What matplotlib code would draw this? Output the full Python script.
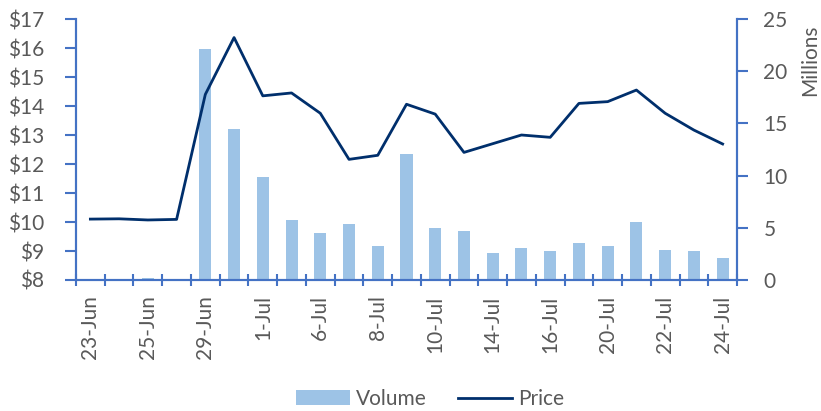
import matplotlib.pyplot as plt
import numpy as np
from matplotlib.lines import Line2D
from matplotlib.patches import Patch

plt.rcParams["font.family"] = ["Lato", "DejaVu Sans"]

DATES = ["23-Jun", "24-Jun", "25-Jun", "26-Jun", "29-Jun", "30-Jun", "1-Jul", "2-Jul",
         "6-Jul", "7-Jul", "8-Jul", "9-Jul", "10-Jul", "13-Jul", "14-Jul", "15-Jul",
         "16-Jul", "17-Jul", "20-Jul", "21-Jul", "22-Jul", "23-Jul", "24-Jul"]
PRICE = [10.10, 10.11, 10.07, 10.09, 14.40, 16.36, 14.35, 14.45, 13.75, 12.16, 12.30,
         14.06, 13.72, 12.40, 12.70, 13.00, 12.92, 14.09, 14.15, 14.55, 13.75, 13.17, 12.69]
VOLUME_M = [0.02, 0.05, 0.22, 0.05, 22.1, 14.5, 9.84, 5.75, 4.5, 5.4, 3.26, 12.1,
            5.0, 4.7, 2.6, 3.07, 2.8, 3.55, 3.3, 5.6, 2.85, 2.8, 2.1]
PRICE_TICKS = list(range(8, 18))
VOLUME_TICKS = [0, 5, 10, 15, 20, 25]

AXIS_BLUE = "#4472C4"
BAR_BLUE = "#9DC3E6"
LINE_NAVY = "#002F6C"
TEXT_GREY = "#595959"

fig = plt.figure(figsize=(8.21, 4.11), dpi=100)
ax = fig.add_axes([76 / 821, 1 - 280 / 411, (737 - 76) / 821, (280 - 19) / 411])
ax2 = ax.twinx()

x = np.arange(len(DATES))
ax2.bar(x, VOLUME_M, width=0.42, color=BAR_BLUE, zorder=1)
ax.plot(x, PRICE, color=LINE_NAVY, linewidth=2.0, zorder=3)

ax.set_zorder(ax2.get_zorder() + 1)
ax.patch.set_visible(False)

ax.set_xlim(-0.5, len(DATES) - 0.5)
ax.set_ylim(8, 17)
ax2.set_ylim(0, 25)

ax.set_yticks(PRICE_TICKS)
ax.set_yticklabels([f"${v}" for v in PRICE_TICKS])
ax2.set_yticks(VOLUME_TICKS)
ax2.set_yticklabels([str(v) for v in VOLUME_TICKS])

ax.set_xticks(x[::2])
ax.set_xticklabels(DATES[::2], rotation=90)
ax.set_xticks(np.arange(-0.5, len(DATES)), minor=True)
ax.tick_params(axis="x", which="major", length=0, pad=11, labelsize=15, labelcolor=TEXT_GREY)
ax.tick_params(axis="x", which="minor", direction="inout", length=9, width=1.5, color=AXIS_BLUE)
ax.tick_params(axis="y", length=8, width=1.5, color=AXIS_BLUE, labelsize=15,
               labelcolor=TEXT_GREY, pad=15)
ax2.tick_params(axis="y", length=8, width=1.5, color=AXIS_BLUE, labelsize=15,
                labelcolor=TEXT_GREY, pad=11)

for a in (ax, ax2):
    a.spines["top"].set_visible(False)
    for side in ("left", "right", "bottom"):
        a.spines[side].set_color(AXIS_BLUE)
        a.spines[side].set_linewidth(1.5)

fig.text(810 / 821, 1 - 60 / 411, "Millions", rotation=90, ha="center", va="center",
         fontsize=15, color=TEXT_GREY)

handles = [Patch(facecolor=BAR_BLUE, edgecolor="none", label="Volume"),
           Line2D([0], [0], color=LINE_NAVY, linewidth=2.0, label="Price")]
fig.legend(handles=handles, loc="center", bbox_to_anchor=(430 / 821, 1 - 399 / 411),
           ncol=2, frameon=False, fontsize=15, labelcolor=TEXT_GREY,
           handlelength=2.6, handletextpad=0.3, columnspacing=1.5)

fig.savefig("out.png", dpi=100)
